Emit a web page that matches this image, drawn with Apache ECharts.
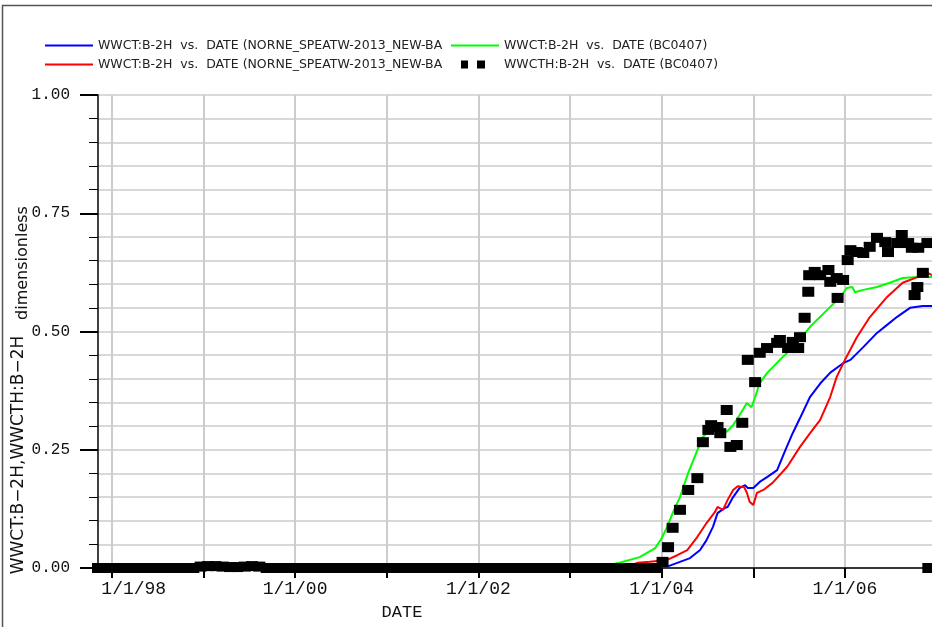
<!DOCTYPE html>
<html>
<head>
<meta charset="utf-8">
<script src="https://cdn.jsdelivr.net/npm/echarts@6/dist/echarts.min.js"></script>
<style>
html, body { margin: 0; padding: 0; background: #fff; }
#chart { width: 932px; height: 627px; }
</style>
</head>
<body>
<div id="chart"></div>
<script>
// dates are decimal years
const nameBlue = "WWCT:B-2H  vs.  DATE (NORNE_SPEATW-2013_NEW-BASE)";
const nameRed = "WWCT:B-2H  vs.  DATE (NORNE_SPEATW-2013_NEW-BASE-HM)";
const nameGreen = "WWCT:B-2H  vs.  DATE (BC0407)";
const nameObs = "WWCTH:B-2H  vs.  DATE (BC0407)";

const tickYears = [1998, 1999, 2000, 2001, 2002, 2003, 2004, 2005, 2006];
const labelYears = [1998, 2000, 2002, 2004, 2006];

const blueDates = [1997.85, 2003.85, 2003.93, 2004.06, 2004.20, 2004.31, 2004.42, 2004.49, 2004.56, 2004.61, 2004.69, 2004.72,
	2004.78, 2004.85, 2004.91, 2004.94, 2005.00, 2005.07, 2005.15, 2005.26, 2005.35, 2005.43, 2005.51, 2005.62,
	2005.73, 2005.84, 2005.98, 2006.06, 2006.20, 2006.35, 2006.46, 2006.57, 2006.71, 2006.85, 2006.95];
const blueValues = [0, 0, 0.001, 0.003, 0.013, 0.021, 0.038, 0.059, 0.087, 0.116, 0.127, 0.129,
	0.150, 0.169, 0.175, 0.169, 0.169, 0.182, 0.192, 0.207, 0.249, 0.285, 0.317, 0.362,
	0.390, 0.413, 0.433, 0.440, 0.467, 0.497, 0.514, 0.531, 0.550, 0.554, 0.554];

const redDates = [1997.85, 2003.60, 2003.74, 2003.87, 2004.06, 2004.17, 2004.28, 2004.39, 2004.49, 2004.58, 2004.61, 2004.67,
	2004.72, 2004.78, 2004.83, 2004.90, 2004.93, 2004.96, 2005.00, 2005.04, 2005.11, 2005.21, 2005.37, 2005.51,
	2005.62, 2005.73, 2005.84, 2005.91, 2006.00, 2006.13, 2006.27, 2006.46, 2006.63, 2006.79, 2006.90, 2006.95];
const redValues = [0, 0, 0.011, 0.013, 0.017, 0.027, 0.038, 0.066, 0.095, 0.118, 0.129, 0.123,
	0.144, 0.165, 0.173, 0.171, 0.159, 0.140, 0.133, 0.159, 0.165, 0.180, 0.214, 0.256,
	0.285, 0.313, 0.362, 0.404, 0.440, 0.488, 0.530, 0.573, 0.603, 0.615, 0.624, 0.619];

const greenDates = [1997.85, 2003.30, 2003.54, 2003.76, 2003.93, 2004.00, 2004.06, 2004.12, 2004.20, 2004.29, 2004.39, 2004.45,
	2004.53, 2004.60, 2004.71, 2004.78, 2004.85, 2004.93, 2004.98, 2005.02, 2005.07, 2005.15, 2005.29, 2005.48,
	2005.62, 2005.84, 2005.95, 2006.02, 2006.08, 2006.11, 2006.20, 2006.35, 2006.49, 2006.63, 2006.79, 2006.95];
const greenValues = [0, 0.001, 0.011, 0.023, 0.042, 0.063, 0.087, 0.116, 0.150, 0.201, 0.249, 0.277,
	0.292, 0.298, 0.288, 0.302, 0.323, 0.349, 0.340, 0.361, 0.391, 0.412, 0.440, 0.476,
	0.510, 0.552, 0.573, 0.592, 0.594, 0.583, 0.588, 0.594, 0.603, 0.613, 0.615, 0.615];

// observed (history) points
const obsDates = [
	1997.85, 1997.93, 1998.01, 1998.09, 1998.17, 1998.25, 1998.33, 1998.41, 1998.49, 1998.57, 1998.65, 1998.73,
	1998.81, 1998.89, 1998.97, 1999.05, 1999.13, 1999.21, 1999.29, 1999.37, 1999.45, 1999.53, 1999.61, 1999.69,
	1999.77, 1999.85, 1999.93, 2000.01, 2000.09, 2000.17, 2000.25, 2000.33, 2000.41, 2000.49, 2000.57, 2000.65,
	2000.73, 2000.81, 2000.89, 2000.97, 2001.05, 2001.13, 2001.21, 2001.29, 2001.37, 2001.45, 2001.53, 2001.61,
	2001.69, 2001.77, 2001.85, 2001.93, 2002.01, 2002.09, 2002.17, 2002.25, 2002.33, 2002.41, 2002.49, 2002.57,
	2002.65, 2002.73, 2002.81, 2002.89, 2002.97, 2003.05, 2003.13, 2003.21, 2003.29, 2003.37, 2003.45, 2003.53,
	2003.61, 2003.69, 2003.77, 2003.85, 2003.93,
	2004.01, 2004.07, 2004.12, 2004.20, 2004.29, 2004.39, 2004.45, 2004.51, 2004.54, 2004.61, 2004.64, 2004.71,
	2004.75, 2004.82, 2004.88, 2004.94, 2005.02, 2005.07, 2005.15, 2005.26, 2005.29, 2005.38, 2005.43, 2005.49,
	2005.51, 2005.56, 2005.60, 2005.61, 2005.67, 2005.73, 2005.82, 2005.84, 2005.91, 2005.92, 2005.98, 2006.03,
	2006.06, 2006.13, 2006.20, 2006.27, 2006.35, 2006.44, 2006.47, 2006.57, 2006.62, 2006.69, 2006.73, 2006.76,
	2006.79, 2006.80, 2006.85, 2006.90, 2006.91];
const obsValues = [
	0, 0, 0, 0, 0, 0, 0, 0, 0, 0, 0, 0,
	0, 0, 0.003, 0.004, 0.004, 0.003, 0.002, 0.002, 0.003, 0.004, 0.003, 0,
	0, 0, 0, 0, 0, 0, 0, 0, 0, 0, 0, 0,
	0, 0, 0, 0, 0, 0, 0, 0, 0, 0, 0, 0,
	0, 0, 0, 0, 0, 0, 0, 0, 0, 0, 0, 0,
	0, 0, 0, 0, 0, 0, 0, 0, 0, 0, 0, 0,
	0, 0, 0, 0, 0,
	0.013, 0.044, 0.085, 0.123, 0.165, 0.190, 0.266, 0.292, 0.302, 0.298, 0.285, 0.334,
	0.256, 0.260, 0.307, 0.440, 0.393, 0.455, 0.465, 0.476, 0.482, 0.465, 0.478, 0.465,
	0.488, 0.529, 0.584, 0.619, 0.626, 0.619, 0.630, 0.605, 0.613, 0.571, 0.609, 0.651,
	0.672, 0.668, 0.666, 0.679, 0.698, 0.689, 0.668, 0.687, 0.704, 0.687, 0.677, 0.577,
	0.594, 0.677, 0.624, 0.687, 0];

function pairs(xs, ys) {
	return xs.map((x, i) => [x, ys[i]]);
}

let chart = echarts.init(document.getElementById("chart"));

const legendText = {
	fontFamily: "DejaVu Sans",
	fontSize: 12.5,
	color: "#222",
	lineHeight: 12,
};
const monoFont = "Liberation Mono";
// legend icons: a 2px line, and two small squares
const lineIcon = "path://M0,0M0,3h48v2h-48zM48,8";
const squaresIcon = "path://M0,0M10,0h7v8h-7zM26,0h8v8h-8zM48,8";

let option = {
	animation: false,
	backgroundColor: "#fff",
	grid: {
		left: 98,
		right: 0,
		top: 95,
		bottom: 59,
		outerBoundsMode: "none",
	},
	legend: [
		{
			left: 45,
			top: 39,
			orient: "vertical",
			padding: 0,
			itemWidth: 48,
			itemHeight: 8,
			itemGap: 6,
			selectedMode: false,
			data: [
				{ name: nameBlue, icon: lineIcon },
				{ name: nameRed, icon: lineIcon },
			],
			textStyle: Object.assign({ width: 350, overflow: "truncate", ellipsis: "" }, legendText),
		},
		{
			left: 451,
			top: 39,
			orient: "vertical",
			padding: 0,
			itemWidth: 48,
			itemHeight: 8,
			itemGap: 6,
			selectedMode: false,
			data: [
				{ name: nameGreen, icon: lineIcon },
				{ name: nameObs, icon: squaresIcon },
			],
			textStyle: legendText,
		},
	],
	xAxis: {
		type: "value",
		min: 1997.85,
		max: 2006.95,
		name: "DATE",
		nameLocation: "middle",
		nameGap: 36,
		nameTextStyle: {
			fontFamily: monoFont,
			fontSize: 17,
			color: "#111",
			padding: [0, 226, 0, 0],
		},
		axisLine: { show: true, onZero: false, lineStyle: { color: "#000", width: 1.5 } },
		axisTick: { show: true, length: 10, customValues: tickYears, lineStyle: { color: "#000", width: 2 } },
		splitLine: { show: true, lineStyle: { color: "#cccccc", width: 2 } },
		axisLabel: {
			customValues: labelYears,
			margin: 12,
			fontFamily: monoFont,
			fontSize: 18,
			color: "#111",
			formatter: (v) => {
				const s = "1/1/" + String(Math.round(v)).slice(2);
				return Math.round(v) === 1998 ? "{first|" + s + "}" : s;
			},
			rich: {
				first: { padding: [0, 0, 0, 44], fontFamily: monoFont, fontSize: 18, color: "#111" },
			},
		},
	},
	yAxis: {
		type: "value",
		min: 0,
		max: 1,
		interval: 0.25,
		axisLine: { show: true, lineStyle: { color: "#000", width: 1.5 } },
		axisTick: { show: true, length: 18, lineStyle: { color: "#000", width: 2 } },
		minorTick: { show: true, splitNumber: 5, length: 9, lineStyle: { color: "#000", width: 1 } },
		splitLine: { show: true, lineStyle: { color: "#cccccc", width: 1.5 } },
		minorSplitLine: { show: true, lineStyle: { color: "#cccccc", width: 1.5 } },
		axisLabel: {
			margin: 28,
			fontFamily: monoFont,
			fontSize: 16,
			color: "#111",
			formatter: (v) => v.toFixed(2),
		},
	},
	graphic: [
		{
			type: "polyline",
			silent: true,
			shape: { points: [[2.5, 627], [2.5, 5.5], [932, 5.5]] },
			style: { stroke: "#555", lineWidth: 1.5, fill: null },
		},
		{
			type: "text",
			silent: true,
			x: 19,
			y: 455,
			rotation: Math.PI / 2,
			style: {
				text: "WWCT:B\u22122H,WWCTH:B\u22122H",
				fontFamily: "DejaVu Sans",
				fontSize: 17,
				fill: "#111",
				align: "center",
				verticalAlign: "middle",
			},
		},
		{
			type: "text",
			silent: true,
			x: 23,
			y: 263,
			rotation: Math.PI / 2,
			style: {
				text: "dimensionless",
				fontFamily: "DejaVu Sans",
				fontSize: 16,
				fill: "#111",
				align: "center",
				verticalAlign: "middle",
			},
		},
	],
	series: [
		{
			name: nameBlue,
			type: "line",
			symbol: "none",
			color: "#0000ff",
			lineStyle: { width: 2 },
			data: pairs(blueDates, blueValues),
			z: 2,
		},
		{
			name: nameGreen,
			type: "line",
			symbol: "none",
			color: "#00ff00",
			lineStyle: { width: 2 },
			data: pairs(greenDates, greenValues),
			z: 2,
		},
		{
			name: nameRed,
			type: "line",
			symbol: "none",
			color: "#ff0000",
			lineStyle: { width: 2 },
			data: pairs(redDates, redValues),
			z: 2,
		},
		{
			name: nameObs,
			type: "scatter",
			symbol: "rect",
			symbolSize: [12, 10],
			itemStyle: { color: "#000", opacity: 1 },
			data: pairs(obsDates, obsValues),
			z: 3,
		},
	],
};

chart.setOption(option);
</script>
</body>
</html>
